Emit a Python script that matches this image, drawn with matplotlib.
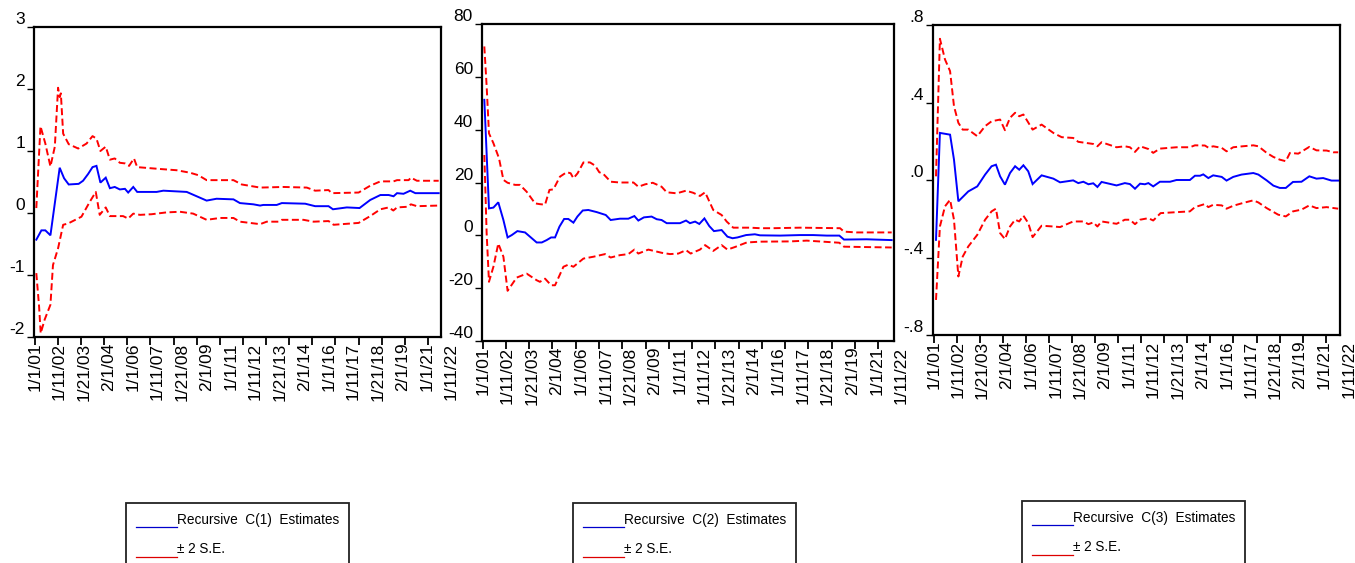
import matplotlib
matplotlib.use("Agg")
import matplotlib.pyplot as plt
from matplotlib.patches import Rectangle
from matplotlib.lines import Line2D

plt.rcParams["font.family"] = ["Liberation Sans", "DejaVu Sans"]

date_labels = ["1/1/01", "1/11/02", "1/21/03", "2/1/04", "1/1/06", "1/11/07",
               "1/21/08", "2/1/09", "1/1/11", "1/11/12", "1/21/13", "2/1/14",
               "1/1/16", "1/11/17", "1/21/18", "2/1/19", "1/1/21", "1/11/22"]

# ---- C(1) ----
c1_est_t = [0.07, 0.29, 0.46, 0.68, 1.08, 1.27, 1.47, 1.90, 2.09, 2.31, 2.50, 2.67, 2.84, 3.07,
            3.25, 3.46, 3.68, 3.90, 4.04, 4.26, 4.43, 5.27, 5.56, 6.57, 7.0, 7.43, 7.86, 8.59,
            8.87, 9.45, 9.74, 9.88, 10.46, 10.68, 11.69, 12.12, 12.70, 12.89, 13.49, 14.04,
            14.50, 14.94, 15.30, 15.51, 15.66, 15.94, 16.23, 16.45, 17.46]
c1_est = [-0.43, -0.28, -0.28, -0.36, 0.73, 0.56, 0.46, 0.47, 0.52, 0.63, 0.74, 0.76, 0.49, 0.57,
          0.40, 0.42, 0.38, 0.39, 0.33, 0.42, 0.34, 0.34, 0.36, 0.34, 0.27, 0.20, 0.23, 0.22,
          0.16, 0.14, 0.12, 0.13, 0.13, 0.16, 0.15, 0.11, 0.11, 0.06, 0.09, 0.08,
          0.21, 0.29, 0.29, 0.27, 0.32, 0.31, 0.36, 0.32, 0.32]
c1_up_t = [0.07, 0.25, 0.46, 0.68, 0.87, 1.01, 1.08, 1.13, 1.23, 1.47, 1.88, 2.24, 2.50, 2.67,
           2.84, 3.07, 3.25, 3.46, 3.68, 3.90, 4.08, 4.29, 4.43, 5.41, 6.13, 6.71, 7.07, 7.43,
           8.59, 8.95, 9.74, 10.75, 11.76, 12.12, 12.70, 12.84, 14.0, 14.50, 14.94, 15.51,
           15.66, 16.16, 16.26, 16.52, 17.46]
c1_up = [0.08, 1.40, 1.12, 0.75, 1.07, 2.02, 1.87, 1.93, 1.28, 1.11, 1.04, 1.12, 1.24, 1.20,
         1.00, 1.07, 0.86, 0.88, 0.81, 0.80, 0.76, 0.88, 0.74, 0.71, 0.69, 0.65, 0.61, 0.53,
         0.53, 0.46, 0.41, 0.42, 0.41, 0.36, 0.37, 0.32, 0.33, 0.44, 0.51, 0.51,
         0.53, 0.53, 0.57, 0.52, 0.52]
c1_lo_t = [0.07, 0.19, 0.26, 0.43, 0.68, 0.79, 1.01, 1.23, 1.44, 2.02, 2.38, 2.64, 2.81, 3.07,
           3.25, 3.82, 4.04, 4.26, 4.55, 5.05, 5.70, 6.28, 6.85, 7.43, 8.01, 8.59, 8.87, 9.74,
           10.03, 10.53, 10.68, 11.62, 12.05, 12.70, 12.92, 14.0, 14.50, 14.94, 15.30, 15.50,
           15.66, 16.09, 16.26, 16.52, 17.46]
c1_lo = [-0.97, -1.51, -1.94, -1.72, -1.48, -0.84, -0.57, -0.19, -0.17, -0.06, 0.18, 0.34, -0.03, 0.09,
         -0.05, -0.05, -0.09, -0.01, -0.03, -0.02, 0.01, 0.02, -0.01, -0.11, -0.08, -0.08, -0.14, -0.18,
         -0.14, -0.14, -0.11, -0.11, -0.14, -0.13, -0.19, -0.16, -0.05, 0.06, 0.09, 0.04,
         0.09, 0.10, 0.14, 0.11, 0.12]

# ---- C(2) ----
c2_est_t = [0.07, 0.27, 0.46, 0.67, 0.89, 1.07, 1.25, 1.49, 1.82, 2.11, 2.32, 2.54, 2.75, 2.94,
            3.11, 3.30, 3.50, 3.68, 3.90, 4.07, 4.30, 4.54, 4.90, 5.29, 5.50, 5.90, 6.26, 6.52,
            6.69, 6.93, 7.26, 7.48, 7.69, 7.91, 8.48, 8.74, 8.91, 9.13, 9.31, 9.53, 9.74, 9.94,
            10.27, 10.52, 10.74, 10.95, 11.32, 11.70, 11.92, 12.78, 13.64, 14.21, 14.79, 15.33,
            15.53, 16.50, 17.58]
c2_est = [51.3, 10.2, 10.5, 12.5, 5.8, -0.8, 0.1, 1.6, 1.1, -1.1, -2.7, -2.7, -1.8, -0.8,
          -0.8, 3.3, 6.2, 6.2, 4.8, 7.1, 9.4, 9.6, 8.8, 7.7, 5.8, 6.3, 6.3, 7.3,
          5.6, 6.8, 7.1, 6.1, 5.8, 4.6, 4.6, 5.6, 4.6, 5.2, 4.3, 6.4, 3.5, 1.6,
          2.0, -0.5, -1.1, -0.8, 0.1, 0.4, 0.0, -0.1, 0.1, 0.1, -0.1, -0.1,
          -1.6, -1.5, -1.8]
c2_up_t = [0.07, 0.17, 0.27, 0.46, 0.70, 0.89, 1.07, 1.39, 1.60, 1.89, 2.25, 2.46, 2.68, 2.87,
           3.04, 3.32, 3.61, 3.78, 3.90, 4.08, 4.33, 4.61, 4.83, 5.01, 5.19, 5.50, 5.90, 6.48,
           6.69, 6.98, 7.31, 7.69, 7.91, 8.34, 8.74, 9.05, 9.34, 9.56, 9.91, 10.27, 10.49,
           10.77, 11.49, 11.92, 12.49, 13.64, 15.36, 15.53, 16.07, 17.58]
c2_up = [71.5, 56.4, 38.6, 34.9, 29.2, 21.0, 19.9, 19.1, 19.1, 16.5, 12.1, 11.8, 11.6, 17.2,
         17.4, 22.2, 23.9, 23.5, 21.6, 23.5, 27.6, 27.6, 26.4, 23.9, 23.2, 20.3, 20.0, 20.0,
         18.4, 19.3, 19.9, 18.4, 16.3, 15.9, 16.9, 16.1, 14.9, 16.3, 9.6, 7.7, 5.2,
         2.9, 2.9, 2.7, 2.7, 2.9, 2.7, 1.4, 1.1, 1.1]
c2_lo_t = [0.07, 0.17, 0.27, 0.46, 0.67, 0.89, 1.07, 1.46, 1.89, 2.32, 2.46, 2.68, 2.94, 3.11,
           3.47, 3.68, 3.90, 4.33, 4.76, 5.26, 5.50, 5.90, 6.26, 6.52, 6.69, 7.12, 7.69, 8.05,
           8.41, 8.74, 8.94, 9.34, 9.56, 9.91, 10.27, 10.52, 10.85, 11.35, 11.92, 13.21, 13.93,
           15.33, 15.53, 17.58]
c2_lo = [30.4, 0.7, -17.6, -11.9, -3.1, -8.1, -21.0, -16.0, -14.5, -17.0, -17.6, -16.4, -18.9, -18.9,
         -11.9, -11.1, -11.9, -8.8, -8.1, -7.1, -8.4, -7.5, -7.1, -5.4, -6.9, -5.4, -6.6, -7.1,
         -6.9, -5.6, -6.9, -5.4, -3.7, -5.9, -3.7, -5.4, -4.4, -2.7, -2.4, -2.3, -2.0,
         -2.8, -4.3, -4.6]

# ---- C(3) ----
c3_est_t = [0.10, 0.27, 0.71, 0.88, 1.07, 1.29, 1.50, 1.89, 2.23, 2.51, 2.70, 2.88, 3.09, 3.31,
            3.53, 3.71, 3.89, 4.10, 4.29, 4.68, 5.19, 5.48, 6.05, 6.27, 6.49, 6.71, 6.92, 7.10,
            7.28, 7.93, 8.29, 8.51, 8.73, 8.95, 9.16, 9.31, 9.52, 9.81, 10.25, 10.53, 11.11,
            11.33, 11.55, 11.69, 11.91, 12.12, 12.49, 12.70, 12.99, 13.35, 13.86, 14.08, 14.44,
            14.73, 15.01, 15.27, 15.58, 15.95, 16.29, 16.60, 16.89, 17.25, 17.54]
c3_est = [-0.309, 0.243, 0.234, 0.105, -0.110, -0.084, -0.059, -0.033, 0.028, 0.071, 0.079, 0.019, -0.024, 0.036,
          0.071, 0.053, 0.076, 0.045, -0.021, 0.024, 0.007, -0.012, -0.002, -0.016, -0.009, -0.022, -0.017, -0.036,
          -0.010, -0.028, -0.016, -0.021, -0.045, -0.019, -0.022, -0.016, -0.033, -0.009, -0.009, 0.0, 0.0,
          0.022, 0.022, 0.029, 0.010, 0.024, 0.016, -0.003, 0.016, 0.028, 0.036, 0.028, -0.002,
          -0.029, -0.041, -0.041, -0.010, -0.009, 0.019, 0.007, 0.010, -0.003, -0.003]
c3_up_t = [0.10, 0.27, 0.49, 0.71, 0.88, 1.07, 1.26, 1.50, 1.89, 2.23, 2.51, 2.88, 3.09, 3.31,
           3.53, 3.71, 3.89, 4.29, 4.68, 5.19, 5.55, 6.05, 6.27, 6.92, 7.10, 7.28, 7.93, 8.29,
           8.51, 8.73, 8.95, 9.31, 9.52, 9.81, 10.53, 11.11, 11.33, 11.76, 11.91, 12.12, 12.49,
           12.70, 12.99, 13.40, 13.86, 14.08, 14.44, 14.73, 15.01, 15.27, 15.45, 15.81, 16.29,
           16.60, 17.04, 17.33, 17.54]
c3_up = [0.019, 0.729, 0.622, 0.562, 0.381, 0.295, 0.260, 0.260, 0.226, 0.278, 0.303, 0.312, 0.257, 0.321,
         0.347, 0.329, 0.338, 0.260, 0.286, 0.243, 0.221, 0.217, 0.197, 0.186, 0.174, 0.195, 0.169, 0.174,
         0.169, 0.145, 0.174, 0.160, 0.140, 0.162, 0.169, 0.169, 0.179, 0.178, 0.167, 0.174, 0.166,
         0.148, 0.169, 0.174, 0.179, 0.174, 0.140, 0.119, 0.105, 0.097, 0.140, 0.136, 0.171,
         0.153, 0.152, 0.143, 0.143]
c3_lo_t = [0.10, 0.20, 0.27, 0.49, 0.71, 0.88, 1.07, 1.26, 1.50, 1.89, 2.23, 2.51, 2.70, 2.88,
           3.09, 3.31, 3.53, 3.71, 3.89, 4.10, 4.29, 4.68, 5.19, 5.48, 6.05, 6.49, 6.71, 6.92,
           7.10, 7.28, 7.93, 8.29, 8.51, 8.73, 8.95, 9.31, 9.52, 9.84, 10.53, 11.11, 11.33,
           11.76, 11.91, 12.12, 12.49, 12.70, 12.99, 13.40, 13.86, 14.08, 14.44, 14.94, 15.27,
           15.58, 15.95, 16.29, 16.60, 17.04, 17.54]
c3_lo = [-0.619, -0.395, -0.240, -0.136, -0.102, -0.205, -0.498, -0.395, -0.343, -0.283, -0.205, -0.162, -0.148, -0.274,
         -0.305, -0.240, -0.205, -0.214, -0.184, -0.222, -0.295, -0.236, -0.240, -0.243, -0.214, -0.214, -0.228, -0.219,
         -0.240, -0.214, -0.226, -0.205, -0.205, -0.228, -0.205, -0.197, -0.209, -0.171, -0.166, -0.162, -0.140,
         -0.124, -0.140, -0.128, -0.131, -0.148, -0.133, -0.119, -0.105, -0.116, -0.145, -0.179, -0.188,
         -0.162, -0.153, -0.131, -0.145, -0.140, -0.148]

W, H = 1355, 563
fig = plt.figure(figsize=(W / 100, H / 100), dpi=100)


def fx(px):
    return px / W


def fy(py):
    return 1 - py / H


panels = [
    # axes box in pixels (left, top, right, bottom), x limit, y ticks, legend box corner
    dict(box=(34, 27, 441, 337), xmax=17.56, yt=[-2, -1, 0, 1, 2, 3],
         ytl=["-2", "-1", "0", "1", "2", "3"], leg=(126, 503), name="C(1)",
         est=(c1_est_t, c1_est), up=(c1_up_t, c1_up), lo=(c1_lo_t, c1_lo)),
    dict(box=(482, 24, 894, 341), xmax=17.68, yt=[-40, -20, 0, 20, 40, 60, 80],
         ytl=["-40", "-20", "0", "20", "40", "60", "80"], leg=(573, 503), name="C(2)",
         est=(c2_est_t, c2_est), up=(c2_up_t, c2_up), lo=(c2_lo_t, c2_lo)),
    dict(box=(933, 25, 1340, 335), xmax=17.62, yt=[-0.8, -0.4, 0.0, 0.4, 0.8],
         ytl=["-.8", "-.4", ".0", ".4", ".8"], leg=(1022, 501), name="C(3)",
         est=(c3_est_t, c3_est), up=(c3_up_t, c3_up), lo=(c3_lo_t, c3_lo)),
]

for p in panels:
    l, t, r, b = p["box"]
    ax = fig.add_axes([fx(l), fy(b), fx(r) - fx(l), (b - t) / H])
    ax.plot(*p["est"], color="#0000FF", lw=1.4, solid_joinstyle="miter")
    ax.plot(*p["up"], color="#FF0000", lw=1.4, dashes=(3.6, 1.8))
    ax.plot(*p["lo"], color="#FF0000", lw=1.4, dashes=(3.6, 1.8))
    ax.set_xlim(-0.03, p["xmax"])
    ax.set_ylim(p["yt"][0], p["yt"][-1])
    ax.set_xticks(range(18))
    ax.tick_params(axis="x", direction="out", length=6, width=1.3, labelbottom=False)
    ax.set_yticks(p["yt"])
    ax.set_yticklabels(p["ytl"])
    ax.tick_params(axis="y", direction="out", length=5, width=1, pad=1.5, labelsize=12.5)
    for lab in ax.get_yticklabels():
        lab.set_verticalalignment("bottom")
    for s in ax.spines.values():
        s.set_linewidth(1.6)
    # date labels are spaced slightly wider than the tick marks
    for k, lab in enumerate(date_labels):
        ax.annotate(lab, xy=(k * 18.0 / 17, 0), xycoords=("data", "axes fraction"),
                    xytext=(0, -4), textcoords="offset points", rotation=90,
                    ha="center", va="top", fontsize=12.5, annotation_clip=False)

    # legend box (cut by the bottom of the figure)
    bl, bt = p["leg"]
    fig.add_artist(Rectangle((fx(bl), fy(bt + 70)), fx(223), 70 / H,
                             transform=fig.transFigure, fill=False,
                             edgecolor="#222222", lw=1.3))
    fig.add_artist(Line2D([fx(bl + 10), fx(bl + 51)], [fy(bt + 24), fy(bt + 24)],
                          transform=fig.transFigure, color="#0000CC", lw=0.9))
    fig.add_artist(Line2D([fx(bl + 10), fx(bl + 51)], [fy(bt + 54), fy(bt + 54)],
                          transform=fig.transFigure, color="#DD0000", lw=0.9))
    fig.text(fx(bl + 51), fy(bt + 17), "Recursive  " + p["name"] + "  Estimates",
             fontsize=9.8, va="center", ha="left")
    fig.text(fx(bl + 51), fy(bt + 46), "\u00b1 2 S.E.",
             fontsize=9.8, va="center", ha="left")

fig.savefig("out.png", dpi=100)
